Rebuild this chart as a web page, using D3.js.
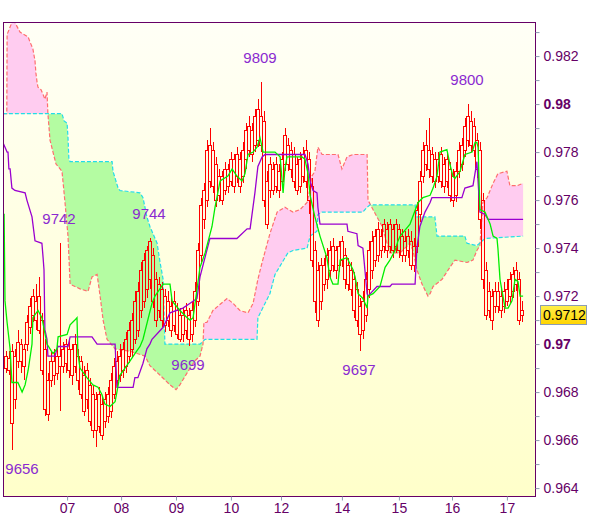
<!DOCTYPE html>
<html><head><meta charset="utf-8">
<script src="https://cdn.jsdelivr.net/npm/d3@7"></script>
<style>body{margin:0;background:#fff}svg{display:block}</style>
</head><body><svg id="c" width="600" height="519"></svg>
<script>
// Prices in ten-thousandths (9712 = 0.9712), one bar per index
const opens = [
9690,9694,9697,9677,9693,9700,9691,9700,9707,9720,
9710,9720,9710,9698,9671,9685,9693,9688,9695,9691,
9700,9689,9698,9691,9695,9693,9687,9677,9683,9679,
9664,9679,9662,9677,9670,9672,9679,9693,9687,9689,
9691,9695,9698,9702,9722,9714,9718,9739,9727,9737,
9727,9714,9723,9708,9718,9716,9708,9714,9712,9704,
9706,9712,9704,9710,9718,9737,9764,9760,9783,9766,
9775,9762,9770,9764,9773,9768,9777,9770,9777,9770,
9777,9781,9789,9783,9798,9783,9793,9768,9764,9773,
9766,9772,9768,9775,9783,9773,9779,9775,9766,9770,
9781,9777,9766,9739,9731,9718,9733,9727,9739,9733,
9739,9733,9743,9737,9725,9731,9727,9723,9716,9706,
9712,9723,9743,9735,9748,9739,9741,9748,9741,9748,
9741,9748,9745,9737,9739,9743,9733,9741,9754,9770,
9783,9773,9779,9768,9777,9768,9775,9768,9773,9770,
9762,9772,9783,9781,9785,9793,9781,9785,9781,9760,
9731,9714,9720,9716,9722,9720,9716,9718,9720,9722,
9731,9727,9714];
const highs = [
9697,9697,9700,9698,9706,9702,9700,9712,9719,9723,
9725,9728,9713,9702,9688,9697,9698,9700,9742,9701,
9702,9702,9700,9704,9698,9695,9691,9692,9686,9683,
9680,9682,9678,9680,9682,9688,9694,9697,9700,9701,
9705,9709,9713,9722,9726,9734,9738,9741,9744,9740,
9730,9728,9726,9723,9722,9719,9722,9717,9715,9715,
9717,9715,9718,9726,9742,9761,9767,9785,9790,9784,
9778,9773,9772,9776,9775,9780,9779,9782,9780,9784,
9792,9795,9792,9798,9802,9809,9797,9772,9778,9776,
9778,9775,9780,9790,9786,9784,9782,9778,9780,9782,
9785,9780,9769,9743,9734,9736,9736,9740,9743,9744,
9741,9743,9745,9740,9736,9734,9730,9726,9719,9722,
9730,9743,9747,9748,9751,9748,9752,9751,9752,9750,
9752,9750,9748,9747,9748,9747,9744,9759,9772,9784,
9789,9794,9782,9780,9780,9782,9778,9780,9776,9773,
9776,9784,9786,9794,9800,9797,9794,9788,9784,9763,
9734,9726,9723,9726,9726,9723,9726,9727,9730,9732,
9734,9730,9718];
const lows = [
9688,9687,9656,9673,9690,9688,9685,9697,9704,9709,
9706,9704,9687,9670,9668,9682,9683,9685,9672,9688,
9688,9686,9683,9688,9681,9677,9670,9673,9666,9661,
9657,9663,9660,9665,9667,9669,9677,9682,9684,9686,
9688,9692,9694,9700,9703,9711,9715,9719,9723,9715,
9707,9711,9707,9705,9707,9703,9705,9702,9701,9701,
9702,9699,9701,9707,9716,9734,9748,9757,9765,9763,
9757,9759,9758,9762,9763,9766,9763,9767,9763,9767,
9773,9778,9776,9780,9782,9780,9757,9748,9761,9762,
9763,9761,9766,9772,9772,9769,9765,9762,9763,9767,
9765,9754,9732,9713,9707,9714,9722,9723,9727,9730,
9727,9730,9732,9723,9722,9720,9711,9707,9697,9702,
9709,9719,9727,9732,9734,9736,9738,9736,9738,9736,
9738,9736,9734,9734,9736,9731,9730,9738,9751,9767,
9772,9769,9767,9765,9767,9765,9763,9765,9759,9757,
9759,9769,9772,9778,9782,9780,9778,9769,9748,9723,
9710,9711,9706,9713,9713,9711,9713,9716,9717,9719,
9722,9708,9709];
const closes = [
9695,9689,9667,9695,9701,9693,9698,9709,9716,9712,
9718,9706,9689,9673,9685,9693,9687,9695,9691,9698,
9692,9698,9687,9700,9685,9679,9672,9689,9668,9664,
9677,9666,9675,9668,9679,9685,9691,9685,9695,9698,
9702,9706,9710,9718,9706,9731,9735,9723,9743,9718,
9710,9725,9710,9720,9710,9706,9718,9704,9702,9712,
9714,9702,9714,9722,9739,9758,9752,9781,9768,9781,
9760,9770,9760,9773,9766,9777,9766,9779,9766,9781,
9789,9791,9779,9795,9785,9795,9760,9750,9775,9764,
9775,9764,9777,9787,9775,9781,9768,9764,9777,9779,
9768,9760,9735,9718,9710,9733,9725,9737,9731,9741,
9731,9741,9735,9727,9733,9723,9714,9710,9704,9718,
9727,9739,9731,9745,9737,9745,9750,9739,9750,9739,
9750,9739,9737,9743,9745,9733,9741,9756,9768,9781,
9775,9781,9770,9777,9770,9779,9766,9777,9762,9760,
9772,9781,9775,9791,9795,9783,9791,9773,9752,9727,
9712,9722,9710,9722,9716,9714,9722,9723,9727,9729,
9725,9710,9712];

// Ichimoku lines: [bar index, price]
const tenkan = [[-0.7,9754],[-0.3,9754],[0,9718],[0.7,9709],[1.7,9698],[2.3,9684],[4.3,9684],[5.7,9680],[6.7,9683],[7.7,9689],[9,9700],[9.3,9711],[11,9714],[12.3,9711],[14,9700],[15,9698],[16,9696],[17.3,9698],[17.7,9703],[20.7,9704],[21.7,9708],[23.3,9710],[24,9711],[24.3,9696],[25,9690],[27.3,9686],[29.3,9683],[31,9682],[32.3,9679],[33.3,9675],[35,9674],[36.7,9676],[37.3,9680],[38.3,9687],[40,9690],[41.7,9693],[43.3,9696],[45,9699],[46,9702],[49,9717],[50,9720],[52.7,9725],[55,9725],[55.7,9718],[58.3,9714],[60.7,9711],[61.7,9710],[62.7,9711],[65,9732],[66.7,9738],[69,9749],[70,9757],[71.7,9768],[74.3,9770],[75.7,9773],[77.3,9770],[79,9768],[80,9771],[81,9779],[82.7,9780],[84,9782],[85,9786],[85.7,9782],[86,9780],[90,9780],[91.7,9778],[92.7,9763],[93.3,9773],[94,9778],[95.7,9778],[99,9778],[100,9777],[101,9771],[101.7,9762],[103.3,9753],[105,9745],[107.3,9736],[108.3,9728],[109.3,9725],[111,9725],[111.7,9735],[114,9736],[116,9731],[116.7,9728],[117.7,9721],[119.3,9719],[120.7,9715],[121,9720],[122.7,9721],[125,9724],[126.7,9732],[128.3,9735],[130,9739],[131,9743],[131.7,9745],[135,9750],[137.7,9759],[139.3,9761],[141.7,9762],[142.7,9765],[144,9770],[145,9780],[147.3,9781],[148.3,9775],[149.3,9770],[150,9769],[151.7,9772],[153.3,9779],[155.7,9780],[156.7,9784],[157.3,9784],[157.7,9782],[158.3,9756],[160,9755],[161.7,9750],[162.7,9745],[164,9744],[164.3,9740],[165,9727],[165.7,9722],[166.7,9715],[167.7,9715],[169,9718],[170,9727],[171,9726],[171.7,9720],[172.7,9720]];
const kijun = [[-0.7,9784],[0,9782],[0.7,9780],[1,9780],[1.3,9773],[1.7,9773],[2.3,9765],[3.3,9764],[6.7,9763],[7.3,9760],[9,9753],[10,9743],[12.3,9742],[12.7,9736],[13,9731],[13.3,9706],[14,9702],[14.3,9695],[16.7,9695],[17.3,9698],[17.7,9699],[21,9699],[21.7,9703],[29,9703],[30.7,9700],[36.7,9700],[37.3,9682],[42.7,9682],[43.3,9686],[44.3,9686],[46,9692],[47.3,9698],[48.3,9700],[49,9702],[52.7,9707],[55,9713],[59.3,9715],[61.7,9717],[64,9719],[65,9728],[68.3,9744],[77.3,9744],[80.7,9748],[81.7,9748],[83.3,9763],[84.3,9774],[85.7,9778],[86.7,9779],[100,9779],[101,9775],[101.7,9768],[102.7,9764],[104,9763],[104.3,9757],[105,9750],[114,9750],[114.3,9747],[117.3,9746],[117.7,9741],[119.3,9740],[120.7,9721],[121,9720],[124,9724],[128.3,9724],[129,9725],[136.7,9725],[137.3,9740],[138.3,9749],[140,9755],[141.7,9759],[142.3,9761],[152.3,9761],[153.3,9765],[156,9766],[157.3,9776],[158.3,9755],[160,9754],[161,9752],[172.7,9752]];
const spanA = [[-0.7,9796],[19,9796],[19.7,9793],[20.7,9792],[21,9786],[21.3,9777],[21.7,9776],[35.7,9776],[36,9772],[37.7,9765],[38.3,9764],[45,9763],[46,9761],[47.3,9753],[48.3,9749],[50.7,9742],[51.7,9734],[52.7,9727],[53.3,9700],[65,9700],[66.7,9702],[84,9702],[84.3,9711],[88.3,9721],[90,9729],[94.3,9738],[96,9739],[100.7,9740],[101.7,9745],[104,9747],[104.3,9754],[105.7,9755],[119.3,9755],[120.7,9757],[121.7,9758],[136.7,9758],[137.3,9753],[143.3,9753],[144,9745],[153.3,9745],[154,9742],[157.3,9741],[160,9744],[172.7,9745]];
const spanB = [[-0.7,9796],[0.6,9796],[0.7,9829],[2.3,9834],[3.3,9834],[5,9830],[7.7,9828],[8.3,9826],[9.3,9823],[10,9818],[10.3,9813],[10.7,9809],[11,9807],[12,9806],[12.7,9804],[13.3,9802],[14,9805],[14.3,9796],[15,9785],[16,9780],[17,9775],[17.7,9774],[19,9772],[20,9759],[21,9745],[21.7,9725],[25,9723],[27.7,9722],[29,9728],[30.7,9729],[31.7,9720],[32.7,9710],[34,9702],[36.7,9698],[41.7,9697],[46.7,9695],[48.3,9691],[51.7,9687],[55,9683],[57,9681],[58.3,9683],[60.7,9688],[63.3,9693],[65,9695],[66,9700],[66.3,9709],[67.3,9709],[69.3,9714],[74,9719],[76,9717],[78.3,9714],[81,9713],[82.7,9717],[84.3,9727],[85.7,9734],[88.3,9746],[90.7,9755],[93.3,9757],[96,9755],[98.3,9756],[100.7,9759],[101.7,9765],[102.3,9770],[103.3,9772],[104.3,9782],[105.7,9779],[111,9779],[112.3,9773],[114,9778],[116,9779],[120.7,9779],[121,9760],[122.7,9756],[125.7,9749],[128.3,9738],[131.7,9738],[135,9742],[136,9739],[137.3,9731],[139,9725],[141,9720],[141.7,9721],[142.7,9724],[145.7,9727],[148.3,9732],[150,9735],[154,9734],[156,9735],[157.3,9739],[158.3,9741],[159.3,9759],[160.7,9761],[162.7,9767],[164.3,9771],[167.3,9772],[168.3,9766],[170.7,9766],[172.7,9767]];

// Axis labels
const dayTickIdx = [20.7,38.7,57,75.3,92,112.3,131.3,149,167.3];
const dayLabels = ['07','08','09','10','12','14','15','16','17'];
const priceTicks = d3.range(964,984).map(v=>v/1000);
// Annotated extremes: bar index and which extreme
const annotIdx = [2,18,48,61,85,118,154];
const annotType = ['low','high','high','low','high','low','high'];

const P = v => v/10000;
const svg = d3.select('#c');
const L=3.5, R=535.5, T=22.5, B=496.5;
const x = d3.scaleLinear().domain([0,172]).range([5,521]);
const y = d3.scaleLinear().domain([0.96367,0.98342]).range([496,22]);
const FONT = '"Liberation Sans", Arial, sans-serif';

const defs = svg.append('defs');
const g = defs.append('linearGradient').attr('id','bg').attr('x1',0).attr('y1',0).attr('x2',0).attr('y2',1);
g.append('stop').attr('offset','0%').attr('stop-color','#fffff6');
g.append('stop').attr('offset','100%').attr('stop-color','#ffffca');
const gy = defs.append('linearGradient').attr('id','yb').attr('x1',0).attr('y1',0).attr('x2',0).attr('y2',1);
gy.append('stop').attr('offset','0%').attr('stop-color','#fff04a');
gy.append('stop').attr('offset','100%').attr('stop-color','#ffd400');
defs.append('clipPath').attr('id','plot').append('rect').attr('x',L).attr('y',T).attr('width',R-L).attr('height',B-T);

const aPts = spanA.map(d=>[x(d[0]), y(P(d[1]))]);
const ext = [[0,aPts[0][1]], ...aPts, [600,aPts[aPts.length-1][1]]];
const above = [...ext,[600,0],[0,0]];
const below = [...ext,[600,519],[0,519]];
const poly = pts => 'M' + pts.map(p=>p.join(',')).join('L') + 'Z';
defs.append('clipPath').attr('id','aboveA').append('path').attr('d', poly(above));
defs.append('clipPath').attr('id','belowA').append('path').attr('d', poly(below));

svg.append('rect').attr('x',L).attr('y',T).attr('width',R-L).attr('height',B-T).attr('fill','url(#bg)');

const pg = svg.append('g').attr('clip-path','url(#plot)');
const bPts = spanB.map(d=>[x(d[0]), y(P(d[1]))]);
const band = poly([...bPts, ...aPts.slice().reverse()]);
pg.append('g').attr('clip-path','url(#aboveA)').append('path').attr('d',band).attr('fill','#ffccf0');
pg.append('g').attr('clip-path','url(#belowA)').append('path').attr('d',band).attr('fill','#b4fca2');

const line = d3.line().x(d=>x(d[0])).y(d=>y(P(d[1])));
pg.append('path').attr('d',line(spanB)).attr('fill','none').attr('stroke','#ff6e6e').attr('stroke-width',1.2).attr('stroke-dasharray','4,2');
pg.append('path').attr('d',line(spanA)).attr('fill','none').attr('stroke','#22dde8').attr('stroke-width',1.2).attr('stroke-dasharray','4,2');

// candles
const cg = pg.append('g').attr('shape-rendering','crispEdges').attr('stroke','#ff0000').attr('fill','none');
opens.forEach((o,i)=>{
  const c = closes[i];
  const cx = Math.round(x(i));
  const yt = Math.round(y(P(Math.max(o,c)))), yb = Math.round(y(P(Math.min(o,c))));
  const yh = Math.round(y(P(highs[i]))), yl = Math.round(y(P(lows[i])));
  cg.append('line').attr('x1',cx+1).attr('x2',cx+1).attr('y1',yh).attr('y2',yt);
  cg.append('line').attr('x1',cx+1).attr('x2',cx+1).attr('y1',yb).attr('y2',yl);
  cg.append('rect').attr('x',cx-0.5).attr('y',yt+0.5).attr('width',3).attr('height',Math.max(1,yb-yt));
});

pg.append('path').attr('d',line(kijun)).attr('fill','none').attr('stroke','#9a00d0').attr('stroke-width',1.3);
pg.append('path').attr('d',line(tenkan)).attr('fill','none').attr('stroke','#00ee00').attr('stroke-width',1.3);

// annotations
annotIdx.forEach((idx,k)=>{
  const isHigh = annotType[k]==='high';
  const v = isHigh ? highs[idx] : lows[idx];
  const cy = y(P(v)) + (isHigh ? -24 : 19);
  svg.append('text').attr('x',Math.max(22,x(idx))).attr('y',cy+5)
    .attr('text-anchor','middle').attr('font-family',FONT).attr('font-size',15)
    .attr('fill','#8a2ad0').text(String(v));
});

// border
svg.append('rect').attr('x',L).attr('y',T).attr('width',R-L).attr('height',B-T)
  .attr('fill','none').attr('stroke','#660066').attr('stroke-width',1);

// y axis
const ya = svg.append('g').attr('transform',`translate(${R},0)`)
  .call(d3.axisRight(y).tickValues(priceTicks).tickSize(4).tickPadding(4)
    .tickFormat(d=>{const m=Math.round(d*1000); return m%2===0 ? String(+(m/1000).toFixed(3)) : '';}));
ya.select('.domain').remove();
ya.selectAll('.tick line').attr('stroke','#8c9cb0');
ya.selectAll('.tick text').attr('fill','#660066').attr('font-family',FONT).attr('font-size',14)
  .attr('font-weight',d=>Math.round(d*1000)%10===0?'bold':'normal');

// x axis
const xa = svg.append('g').attr('transform',`translate(0,${B})`)
  .call(d3.axisBottom(x).tickValues(dayTickIdx).tickSize(4).tickPadding(3).tickFormat((d,i)=>dayLabels[i]));
xa.select('.domain').remove();
xa.selectAll('.tick line').attr('stroke','#8c9cb0');
xa.selectAll('.tick text').attr('fill','#660066').attr('font-family',FONT).attr('font-size',14);

// last price box
const last = closes[closes.length-1];
const ly = y(P(last));
svg.append('rect').attr('x',540.5).attr('y',Math.round(ly)-9.5).attr('width',46).attr('height',19)
  .attr('fill','url(#yb)').attr('stroke','#8c9cb4');
svg.append('text').attr('x',543).attr('y',Math.round(ly)+5).attr('font-family',FONT).attr('font-size',14)
  .attr('fill','#000').text(P(last).toFixed(4));
</script></body></html>
